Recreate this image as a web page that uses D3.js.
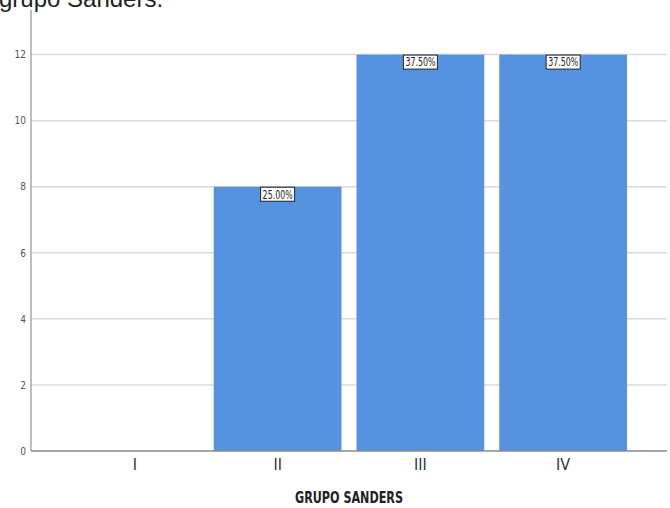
<!DOCTYPE html>
<html>
<head>
<meta charset="utf-8">
<script src="https://cdn.jsdelivr.net/npm/d3@7"></script>
<style>
  body { margin: 0; background: #fff; }
  svg { display: block; }
</style>
</head>
<body>
<div class="container"></div>
<script>
const categories = ["I", "II", "III", "IV"];
const counts = [0, 8, 12, 12];
const percentLabels = ["", "25.00%", "37.50%", "37.50%"];
const yTicks = [0, 2, 4, 6, 8, 10, 12];

const width = 670, height = 508;
const margin = {top: 10, right: 3, bottom: 57, left: 31};
const narrow = "'Liberation Sans Narrow', 'DejaVu Sans Condensed', 'Liberation Sans', sans-serif";

const svg = d3.select(".container")
              .append("svg")
              .attr("width", width)
              .attr("height", height);

// cropped caption line at the very top
svg.append("text")
   .attr("x", -1)
   .attr("y", 7)
   .attr("font-family", "'Liberation Sans', Arial, sans-serif")
   .attr("font-size", 24)
   .attr("fill", "#222")
   .text("grupo Sanders.");

const xScale = d3.scaleBand()
                 .domain(categories)
                 .range([margin.left, width - margin.right])
                 .paddingInner(0.105)
                 .paddingOuter(0.28);

const yScale = d3.scaleLinear()
                 .domain([0, 13.35])
                 .range([height - margin.bottom, margin.top]);

// gridlines
svg.append("g")
   .selectAll("line")
   .data(yTicks.filter(t => t > 0))
   .join("line")
   .attr("x1", margin.left)
   .attr("x2", width - margin.right)
   .attr("y1", d => yScale(d))
   .attr("y2", d => yScale(d))
   .attr("stroke", "#dadada")
   .attr("stroke-width", 1.5);

// bars
const data = categories.map((c, i) => ({cat: c, n: counts[i], lab: percentLabels[i]}));
svg.append("g")
   .selectAll("rect")
   .data(data.filter(d => d.n > 0))
   .join("rect")
   .attr("x", d => xScale(d.cat))
   .attr("y", d => yScale(d.n))
   .attr("width", xScale.bandwidth())
   .attr("height", d => yScale(0) - yScale(d.n))
   .attr("fill", "#5592e0");

// y axis
const yAxis = d3.axisLeft(yScale).tickValues(yTicks).tickSize(0).tickPadding(5);
const gy = svg.append("g")
   .attr("transform", `translate(${margin.left},0)`)
   .call(yAxis);
gy.select(".domain").remove();
gy.selectAll("text")
  .attr("font-family", narrow)
  .attr("font-size", 10)
  .attr("fill", "#555");
svg.append("line")
   .attr("x1", margin.left).attr("x2", margin.left)
   .attr("y1", margin.top).attr("y2", yScale(0))
   .attr("stroke", "#a8a8a8").attr("stroke-width", 1.5);

// x axis
const xAxis = d3.axisBottom(xScale).tickSize(0).tickPadding(8);
const gx = svg.append("g")
   .attr("transform", `translate(0,${yScale(0)})`)
   .call(xAxis);
gx.select(".domain").remove();
gx.selectAll("text")
  .attr("font-family", narrow)
  .attr("font-size", 16)
  .attr("fill", "#333");
svg.append("line")
   .attr("x1", margin.left).attr("x2", width - margin.right)
   .attr("y1", yScale(0)).attr("y2", yScale(0))
   .attr("stroke", "#8a8a8a").attr("stroke-width", 1.5);

// axis title
svg.append("text")
   .attr("x", 349)
   .attr("y", 503)
   .attr("text-anchor", "middle")
   .attr("font-family", narrow)
   .attr("font-size", 15)
   .attr("font-weight", "bold")
   .attr("fill", "#222")
   .attr("textLength", 108)
   .attr("lengthAdjust", "spacingAndGlyphs")
   .text("GRUPO SANDERS");

// value labels
const labels = svg.append("g")
   .selectAll("g")
   .data(data.filter(d => d.lab))
   .join("g")
   .attr("transform", d => `translate(${xScale(d.cat) + xScale.bandwidth() / 2},${yScale(d.n)})`);
labels.append("rect")
      .attr("x", -17)
      .attr("y", 0.5)
      .attr("width", 34)
      .attr("height", 14)
      .attr("fill", "#fff")
      .attr("stroke", "#222")
      .attr("stroke-width", 1);
labels.append("text")
      .attr("y", 11.8)
      .attr("text-anchor", "middle")
      .attr("font-family", narrow)
      .attr("font-size", 12)
      .attr("fill", "#222")
      .attr("textLength", 30)
      .attr("lengthAdjust", "spacingAndGlyphs")
      .text(d => d.lab);
</script>
</body>
</html>
